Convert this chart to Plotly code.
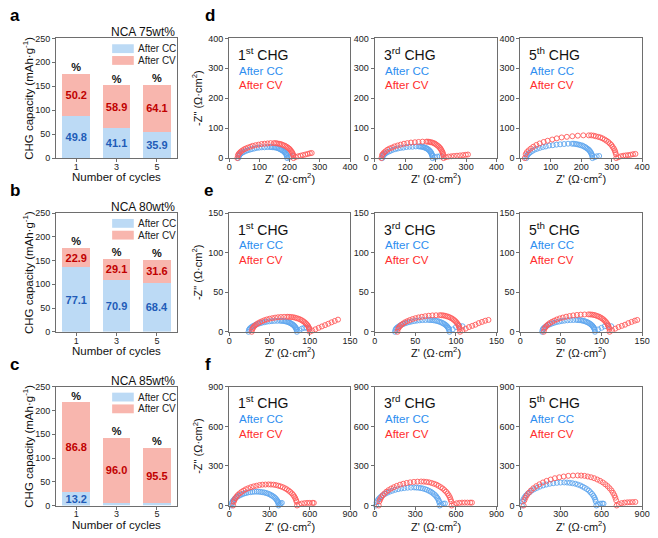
import plotly.graph_objects as go

W, H = 658, 538
FONT = "Liberation Sans, Arial, sans-serif"

# ---------------- bar data (panels a-c) ----------------
cycles = ["1", "3", "5"]
bar_titles = ["NCA 75wt%", "NCA 80wt%", "NCA 85wt%"]

cc_cap_75 = [88, 62, 55]
cv_cap_75 = [88, 90, 98]
cc_pct_75 = ["49.8", "41.1", "35.9"]
cv_pct_75 = ["50.2", "58.9", "64.1"]

cc_cap_80 = [136, 109, 103]
cv_cap_80 = [40, 45, 48]
cc_pct_80 = ["77.1", "70.9", "68.4"]
cv_pct_80 = ["22.9", "29.1", "31.6"]

cc_cap_85 = [29, 6, 5]
cv_cap_85 = [188, 136, 116]
cc_pct_85 = ["13.2", "", ""]
cv_pct_85 = ["86.8", "96.0", "95.5"]

# ---------------- EIS data (panels d-f) ----------------
d1_cc_re = [30, 32, 34, 36, 40, 44, 49, 55, 61, 68, 75, 83, 91, 99, 108, 117, 126, 135, 140, 145, 150, 155, 159, 164, 168, 172, 175, 179, 182, 184, 187, 189, 190, 191, 192, 198, 205, 212]
d1_cc_im = [0, 6, 10, 13, 16, 19, 21, 24, 26, 28, 30, 32, 34, 35, 36, 36, 37, 37, 37, 36, 36, 35, 34, 32, 30, 28, 26, 24, 21, 19, 16, 13, 10, 6, 0, 3, 6, 8]
d1_cv_re = [27, 29, 31, 34, 38, 43, 49, 55, 62, 70, 78, 87, 97, 107, 117, 127, 137, 148, 154, 159, 165, 170, 175, 180, 185, 190, 194, 198, 201, 204, 207, 209, 211, 212, 213, 220, 228, 236, 244, 252, 260, 267, 273]
d1_cv_im = [0, 9, 13, 17, 21, 25, 29, 32, 35, 38, 41, 43, 45, 47, 48, 49, 50, 50, 50, 49, 48, 47, 45, 43, 41, 38, 35, 32, 29, 25, 21, 17, 13, 9, 0, 4, 6, 8, 10, 12, 14, 16, 17]

d2_cc_re = [25, 27, 29, 32, 36, 41, 47, 53, 60, 68, 76, 85, 94, 104, 114, 124, 135, 145, 149, 153, 157, 160, 164, 168, 171, 174, 177, 180, 182, 184, 186, 187, 189, 189, 190, 197, 205, 213, 220]
d2_cc_im = [0, 7, 10, 13, 16, 20, 22, 25, 28, 30, 32, 34, 35, 37, 38, 38, 39, 39, 39, 38, 38, 37, 35, 34, 32, 30, 28, 25, 22, 20, 16, 13, 10, 7, 0, 3, 5, 6, 5]
d2_cv_re = [22, 24, 27, 31, 36, 42, 49, 57, 65, 75, 85, 96, 107, 119, 132, 144, 157, 170, 175, 180, 184, 189, 194, 198, 202, 206, 210, 213, 216, 218, 221, 223, 224, 225, 226, 233, 242, 251, 260, 270, 280, 290, 299, 306]
d2_cv_im = [0, 10, 14, 19, 23, 28, 32, 35, 39, 42, 45, 48, 50, 52, 53, 54, 55, 55, 55, 54, 53, 52, 50, 48, 45, 42, 39, 35, 32, 28, 23, 19, 14, 10, 0, 3, 5, 6, 7, 8, 9, 10, 11, 12]

d3_cc_re = [20, 22, 25, 29, 34, 40, 47, 55, 64, 74, 84, 95, 107, 119, 131, 144, 157, 170, 176, 182, 187, 193, 198, 204, 208, 213, 217, 221, 225, 228, 231, 233, 235, 236, 237, 244, 251, 259]
d3_cc_im = [0, 8, 12, 16, 20, 24, 28, 31, 34, 37, 39, 42, 43, 45, 46, 47, 48, 48, 48, 47, 46, 45, 43, 42, 39, 37, 34, 31, 28, 24, 20, 16, 12, 8, 0, 3, 6, 7]
d3_cv_re = [15, 18, 22, 28, 35, 43, 53, 64, 77, 90, 105, 120, 136, 153, 171, 189, 207, 225, 233, 241, 248, 256, 263, 270, 277, 283, 289, 294, 299, 303, 307, 310, 312, 314, 315, 322, 330, 338, 346, 354, 362, 370, 378]
d3_cv_im = [0, 13, 20, 26, 32, 38, 44, 49, 54, 58, 62, 66, 69, 71, 73, 75, 76, 76, 76, 75, 73, 71, 69, 66, 62, 58, 54, 49, 44, 38, 32, 26, 20, 13, 0, 3, 6, 8, 9, 10, 11, 13, 14]

e1_cc_re = [24, 24.6, 25.3, 26.3, 27.7, 29.2, 31.1, 33.1, 35.4, 37.9, 40.6, 43.5, 46.5, 49.7, 52.9, 56.2, 59.6, 63, 64.8, 66.7, 68.4, 70.2, 71.9, 73.5, 75.1, 76.5, 77.8, 79.1, 80.2, 81.2, 82, 82.7, 83.3, 83.7, 84, 87, 90, 93, 96, 99]
e1_cc_im = [0, 2.4, 3.6, 4.8, 5.9, 7, 8, 9, 9.9, 10.7, 11.5, 12.1, 12.7, 13.2, 13.5, 13.8, 13.9, 14, 13.9, 13.8, 13.5, 13.2, 12.7, 12.1, 11.5, 10.7, 9.9, 9, 8, 7, 5.9, 4.8, 3.6, 2.4, 0, 2, 4, 5, 5, 4]
e1_cv_re = [28, 28.7, 29.5, 30.6, 32.1, 33.9, 36, 38.3, 40.9, 43.7, 46.7, 50, 53.4, 57, 60.6, 64.3, 68.2, 72, 74.4, 76.9, 79.3, 81.6, 83.8, 86, 88.1, 90, 91.8, 93.4, 94.9, 96.2, 97.4, 98.3, 99, 99.6, 100, 103, 107, 111, 115, 119, 123, 127, 131, 135]
e1_cv_im = [0, 3.3, 4.9, 6.5, 8, 9.5, 10.9, 12.2, 13.4, 14.6, 15.6, 16.5, 17.2, 17.9, 18.4, 18.7, 18.9, 19, 18.9, 18.7, 18.4, 17.9, 17.2, 16.5, 15.6, 14.6, 13.4, 12.2, 10.9, 9.5, 8, 6.5, 4.9, 3.3, 0, 1.5, 3.2, 5, 6.8, 8.5, 10.2, 12, 13.7, 15.4]

e2_cc_re = [25, 25.6, 26.4, 27.5, 28.9, 30.5, 32.4, 34.6, 37, 39.6, 42.5, 45.5, 48.7, 52, 55.4, 58.9, 62.4, 66, 68.3, 70.5, 72.7, 74.9, 77, 79, 80.9, 82.7, 84.4, 85.9, 87.3, 88.5, 89.6, 90.4, 91.1, 91.6, 92, 96, 100, 104, 108]
e2_cc_im = [0, 2.6, 3.9, 5.1, 6.3, 7.5, 8.6, 9.6, 10.6, 11.5, 12.3, 13, 13.6, 14.1, 14.5, 14.8, 14.9, 15, 14.9, 14.8, 14.5, 14.1, 13.6, 13, 12.3, 11.5, 10.6, 9.6, 8.6, 7.5, 6.3, 5.1, 3.9, 2.6, 0, 3, 6, 8, 7]
e2_cv_re = [28, 28.8, 29.8, 31.1, 32.9, 35, 37.4, 40.2, 43.2, 46.6, 50.2, 54, 58, 62.2, 66.5, 71, 75.5, 80, 82.2, 84.4, 86.5, 88.6, 90.6, 92.5, 94.4, 96.1, 97.7, 99.2, 100.5, 101.7, 102.7, 103.5, 104.2, 104.6, 105, 108, 112, 116, 120, 124, 128, 132, 136, 140]
e2_cv_im = [0, 3.7, 5.4, 7.2, 8.9, 10.5, 12.1, 13.5, 14.8, 16.1, 17.2, 18.2, 19, 19.7, 20.3, 20.7, 20.9, 21, 20.9, 20.7, 20.3, 19.7, 19, 18.2, 17.2, 16.1, 14.8, 13.5, 12.1, 10.5, 8.9, 7.2, 5.4, 3.7, 0, 2, 4, 6, 7.5, 9, 11, 12.5, 14, 15]

e3_cc_re = [27, 27.6, 28.4, 29.5, 30.9, 32.6, 34.6, 36.8, 39.3, 42, 44.9, 48, 51.2, 54.6, 58.1, 61.7, 65.3, 69, 71, 73, 75, 76.9, 78.7, 80.5, 82.2, 83.8, 85.3, 86.6, 87.8, 88.9, 89.8, 90.6, 91.2, 91.7, 92, 96, 100, 104, 108, 112]
e3_cc_im = [0, 2.6, 3.9, 5.1, 6.3, 7.5, 8.6, 9.6, 10.6, 11.5, 12.3, 13, 13.6, 14.1, 14.5, 14.8, 14.9, 15, 14.9, 14.8, 14.5, 14.1, 13.6, 13, 12.3, 11.5, 10.6, 9.6, 8.6, 7.5, 6.3, 5.1, 3.9, 2.6, 0, 3, 5, 7, 8, 7]
e3_cv_re = [29, 29.8, 30.9, 32.3, 34.2, 36.4, 39, 41.9, 45.1, 48.6, 52.4, 56.5, 60.7, 65.2, 69.8, 74.4, 79.2, 84, 86.3, 88.5, 90.7, 92.9, 95, 97, 98.9, 100.7, 102.4, 103.9, 105.3, 106.5, 107.6, 108.4, 109.1, 109.6, 110, 113, 117, 121, 125, 129, 133, 137, 141, 144]
e3_cv_im = [0, 3.8, 5.7, 7.5, 9.3, 11, 12.6, 14.1, 15.6, 16.9, 18, 19.1, 19.9, 20.7, 21.3, 21.7, 21.9, 22, 21.9, 21.7, 21.3, 20.7, 19.9, 19.1, 18, 16.9, 15.6, 14.1, 12.6, 11, 9.3, 7.5, 5.7, 3.8, 0, 2, 4, 6, 7.5, 9, 11, 12.5, 14, 15]

f1_cc_re = [18, 21, 24, 29, 36, 43, 52, 62, 73, 85, 98, 112, 126, 141, 157, 173, 189, 205, 219, 233, 247, 261, 274, 287, 299, 310, 320, 330, 339, 346, 353, 358, 363, 366, 368, 375, 383, 392]
f1_cc_im = [0, 18, 27, 36, 44, 53, 60, 68, 74, 80, 86, 91, 95, 99, 101, 103, 105, 105, 105, 103, 101, 99, 95, 91, 86, 80, 74, 68, 60, 53, 44, 36, 27, 18, 0, 8, 15, 20]
f1_cv_re = [30, 34, 39, 46, 55, 65, 78, 92, 107, 124, 142, 162, 182, 203, 225, 247, 270, 293, 311, 330, 348, 366, 383, 399, 415, 429, 443, 455, 467, 477, 485, 492, 498, 502, 505, 520, 540, 560, 580, 600, 620, 630]
f1_cv_im = [0, 28, 41, 55, 68, 80, 92, 103, 113, 123, 131, 139, 145, 150, 155, 158, 159, 160, 159, 158, 155, 150, 145, 139, 131, 123, 113, 103, 92, 80, 68, 55, 41, 28, 0, 8, 15, 18, 20, 20, 20, 20]

f2_cc_re = [10, 14, 20, 27, 37, 48, 61, 76, 93, 111, 130, 151, 173, 196, 219, 243, 268, 292, 308, 325, 341, 356, 372, 386, 400, 413, 425, 436, 446, 455, 462, 469, 474, 477, 480, 492, 505, 518]
f2_cc_im = [0, 24, 35, 47, 58, 69, 79, 88, 97, 105, 112, 119, 124, 129, 132, 135, 136, 137, 136, 135, 132, 129, 124, 119, 112, 105, 97, 88, 79, 69, 58, 47, 35, 24, 0, 8, 14, 15]
f2_cv_re = [30, 35, 41, 49, 59, 72, 87, 103, 122, 142, 163, 187, 211, 236, 262, 289, 316, 343, 363, 382, 401, 420, 438, 456, 472, 488, 502, 515, 527, 538, 547, 555, 560, 565, 568, 585, 605, 625, 645, 665, 685, 705, 718]
f2_cv_im = [0, 32, 47, 62, 77, 91, 105, 117, 129, 139, 149, 158, 165, 171, 176, 179, 181, 182, 181, 179, 176, 171, 165, 158, 149, 139, 129, 117, 105, 91, 77, 62, 47, 32, 0, 10, 17, 20, 22, 22, 22, 22, 22]

f3_cc_re = [12, 17, 23, 31, 41, 54, 69, 85, 104, 124, 145, 169, 193, 218, 244, 271, 298, 325, 346, 366, 386, 406, 425, 444, 461, 477, 493, 507, 519, 530, 540, 548, 554, 558, 562, 575, 590, 605, 615]
f3_cc_im = [0, 30, 45, 60, 74, 88, 100, 113, 124, 134, 143, 152, 159, 165, 169, 172, 174, 175, 174, 172, 169, 165, 159, 152, 143, 134, 124, 113, 100, 88, 74, 60, 45, 30, 0, 8, 14, 15, 14]
f3_cv_re = [25, 31, 39, 49, 63, 79, 97, 119, 142, 168, 195, 225, 256, 288, 321, 355, 390, 425, 450, 475, 499, 523, 546, 569, 590, 610, 628, 645, 660, 674, 685, 695, 702, 708, 712, 728, 748, 770, 790, 810, 830, 850]
f3_cv_im = [0, 40, 59, 78, 96, 114, 131, 147, 161, 175, 187, 197, 207, 214, 220, 225, 227, 228, 227, 225, 220, 214, 207, 197, 187, 175, 161, 147, 131, 114, 96, 78, 59, 40, 0, 10, 18, 22, 24, 25, 26, 27]

cycle_labels = ["1<sup>st</sup> CHG", "3<sup>rd</sup> CHG", "5<sup>th</sup> CHG"]
eis_ranges = [[0, 400], [0, 150], [0, 900]]
eis_dticks = [100, 50, 300]

# ---------------- styling ----------------
AX = "#6e6e6e"
CC_BAR = "#bcdaf5"
CV_BAR = "#f8b6ae"
CC_TXT = "#1f5cb8"
CV_TXT = "#c00000"
CC_MK = "#5fa6ee"
CV_MK = "#ff5a5a"
CC_LBL = "#2e8ef0"
CV_LBL = "#ff2d2d"

bar_dom_x = (54, 177)
eis_dom_x = [(230, 353), (378, 502), (526, 650)]
row_dom_y = [(34, 156), (212, 333), (389, 510)]


def PX(x):
    return x / W


def PY(y):
    return 1 - y / H


common = dict(showline=True, linecolor=AX, linewidth=1, mirror=True,
              ticks="outside", ticklen=3, tickcolor=AX, tickwidth=1,
              showgrid=False, zeroline=False,
              tickfont=dict(size=9, color="#222", family=FONT))

fig = go.Figure()
layout = {}
annotations = []
shapes = []

bar_sets = [
    (cc_cap_75, cv_cap_75, cc_pct_75, cv_pct_75),
    (cc_cap_80, cv_cap_80, cc_pct_80, cv_pct_80),
    (cc_cap_85, cv_cap_85, cc_pct_85, cv_pct_85),
]

for r, (cc, cv, ccp, cvp) in enumerate(bar_sets):
    n = r + 1
    xa, ya = ("x", "y") if n == 1 else (f"x{n}", f"y{n}")
    top, bot = row_dom_y[r]
    layout[f"xaxis{n}"] = dict(domain=[PX(bar_dom_x[0]), PX(bar_dom_x[1])], anchor=ya,
                               type="category", ticklabelstandoff=-3, **common)
    layout[f"yaxis{n}"] = dict(domain=[PY(bot), PY(top)], anchor=xa,
                               range=[0, 250], dtick=50, **common)
    fig.add_trace(go.Bar(x=cycles, y=cc, text=ccp, texttemplate="<b>%{text}</b>",
                         textposition="inside", insidetextanchor="middle", textangle=0,
                         constraintext="none",
                         textfont=dict(size=11, color=CC_TXT, family=FONT),
                         marker=dict(color=CC_BAR, line=dict(width=0)),
                         xaxis=xa, yaxis=ya, showlegend=False, width=0.69))
    fig.add_trace(go.Bar(x=cycles, y=cv, text=cvp, texttemplate="<b>%{text}</b>",
                         textposition="inside", insidetextanchor="middle", textangle=0,
                         constraintext="none",
                         textfont=dict(size=11, color=CV_TXT, family=FONT),
                         marker=dict(color=CV_BAR, line=dict(width=0)),
                         xaxis=xa, yaxis=ya, showlegend=False, width=0.69))
    totals = [a + b for a, b in zip(cc, cv)]
    fig.add_trace(go.Scatter(x=cycles, y=totals, mode="text", text=["<b>%</b>"] * 3,
                             textposition="top center",
                             textfont=dict(size=11, color="#111", family=FONT),
                             xaxis=xa, yaxis=ya, showlegend=False, cliponaxis=False))
    # title
    annotations.append(dict(x=PX(177), y=PY(top - 6), xref="paper", yref="paper",
                            text=bar_titles[r], showarrow=False, xanchor="right",
                            yanchor="middle", font=dict(size=12, color="#111", family=FONT)))
    # legend swatches
    for k, (col, lab) in enumerate([(CC_BAR, "After CC"), (CV_BAR, "After CV")]):
        y0 = top + 6 + 12 * k
        shapes.append(dict(type="rect", xref="paper", yref="paper",
                           x0=PX(111), x1=PX(133), y0=PY(y0 + 9), y1=PY(y0),
                           fillcolor=col, line=dict(width=0)))
        annotations.append(dict(x=PX(135), y=PY(y0 + 4.5), xref="paper", yref="paper",
                                text=lab, showarrow=False, xanchor="left", yanchor="middle",
                                font=dict(size=10, color="#222", family=FONT)))
    # axis titles
    annotations.append(dict(x=PX(26), y=PY((top + bot) / 2), xref="paper", yref="paper",
                            text="CHG capacity (mAh·g<sup>-1</sup>)", textangle=-90,
                            showarrow=False, xanchor="center", yanchor="middle",
                            font=dict(size=11.5, color="#111", family=FONT)))
    annotations.append(dict(x=PX((bar_dom_x[0] + bar_dom_x[1]) / 2), y=PY(bot + 19.5),
                            xref="paper", yref="paper", text="Number of cycles",
                            showarrow=False, xanchor="center", yanchor="middle",
                            font=dict(size=11.5, color="#111", family=FONT)))

eis_sets = [
    [(d1_cc_re, d1_cc_im, d1_cv_re, d1_cv_im), (d2_cc_re, d2_cc_im, d2_cv_re, d2_cv_im), (d3_cc_re, d3_cc_im, d3_cv_re, d3_cv_im)],
    [(e1_cc_re, e1_cc_im, e1_cv_re, e1_cv_im), (e2_cc_re, e2_cc_im, e2_cv_re, e2_cv_im), (e3_cc_re, e3_cc_im, e3_cv_re, e3_cv_im)],
    [(f1_cc_re, f1_cc_im, f1_cv_re, f1_cv_im), (f2_cc_re, f2_cc_im, f2_cv_re, f2_cv_im), (f3_cc_re, f3_cc_im, f3_cv_re, f3_cv_im)],
]

for r in range(3):
    top, bot = row_dom_y[r]
    for c in range(3):
        n = 4 + r * 3 + c
        xa, ya = f"x{n}", f"y{n}"
        x0, x1 = eis_dom_x[c]
        layout[f"xaxis{n}"] = dict(domain=[PX(x0), PX(x1)], anchor=ya,
                                   range=eis_ranges[r], dtick=eis_dticks[r],
                                   ticklabelstandoff=-3, **common)
        layout[f"yaxis{n}"] = dict(domain=[PY(bot), PY(top)], anchor=xa,
                                   range=eis_ranges[r], dtick=eis_dticks[r], **common)
        cc_re, cc_im, cv_re, cv_im = eis_sets[r][c]
        fig.add_trace(go.Scatter(x=cc_re, y=cc_im, mode="markers",
                                 marker=dict(symbol="circle-open", size=5, color=CC_MK,
                                             line=dict(width=0.9)),
                                 xaxis=xa, yaxis=ya, showlegend=False, cliponaxis=False))
        fig.add_trace(go.Scatter(x=cv_re, y=cv_im, mode="markers",
                                 marker=dict(symbol="circle-open", size=5, color=CV_MK,
                                             line=dict(width=0.9)),
                                 xaxis=xa, yaxis=ya, showlegend=False, cliponaxis=False))
        annotations.append(dict(x=PX(x0 + 7), y=PY(top + 16), xref="paper", yref="paper",
                                text=cycle_labels[c], showarrow=False, xanchor="left",
                                yanchor="middle", font=dict(size=14, color="#111", family=FONT)))
        annotations.append(dict(x=PX(x0 + 8), y=PY(top + 33), xref="paper", yref="paper",
                                text="After CC", showarrow=False, xanchor="left",
                                yanchor="middle", font=dict(size=11.5, color=CC_LBL, family=FONT)))
        annotations.append(dict(x=PX(x0 + 8), y=PY(top + 48), xref="paper", yref="paper",
                                text="After CV", showarrow=False, xanchor="left",
                                yanchor="middle", font=dict(size=11.5, color=CV_LBL, family=FONT)))
        annotations.append(dict(x=PX((x0 + x1) / 2), y=PY(bot + 20.5), xref="paper", yref="paper",
                                text="Z' (Ω·cm<sup>2</sup>)", showarrow=False, xanchor="center",
                                yanchor="middle", font=dict(size=11, color="#111", family=FONT)))
    annotations.append(dict(x=PX(198), y=PY((top + bot) / 2), xref="paper", yref="paper",
                            text="-Z\" (Ω·cm<sup>2</sup>)", textangle=-90, showarrow=False,
                            xanchor="center", yanchor="middle",
                            font=dict(size=11, color="#111", family=FONT)))

# panel letters
for lab, (x, y) in zip("abcdef", [(5, 11), (5, 189), (5, 366), (203, 11), (202, 189), (203, 366)]):
    annotations.append(dict(x=PX(x), y=PY(y), xref="paper", yref="paper", text=f"<b>{lab}</b>",
                            showarrow=False, xanchor="left", yanchor="middle",
                            font=dict(size=17, color="#000", family=FONT)))

fig.update_layout(
    width=W, height=H, margin=dict(l=0, r=0, t=0, b=0),
    paper_bgcolor="white", plot_bgcolor="white",
    barmode="stack", showlegend=False,
    font=dict(family=FONT),
    annotations=annotations, shapes=shapes,
    **layout,
)

fig.write_html("out.html")
